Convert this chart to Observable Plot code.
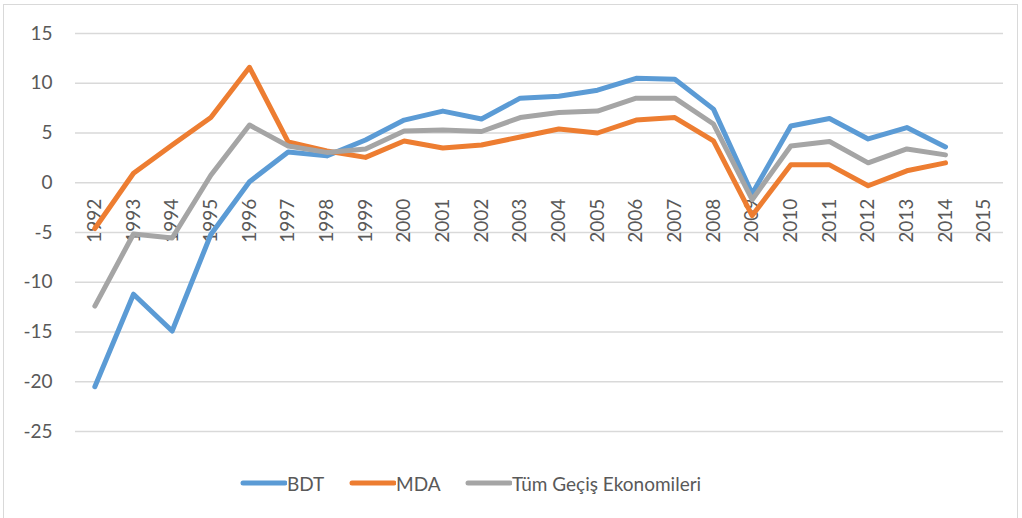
<!DOCTYPE html>
<html>
<head>
<meta charset="utf-8">
<script src="https://cdn.jsdelivr.net/npm/d3@7"></script>
<script src="https://cdn.jsdelivr.net/npm/@observablehq/plot@0.6"></script>
<style>
  html, body { margin: 0; padding: 0; background: #fff; }
  #wrap { position: relative; width: 1022px; height: 518px; overflow: hidden; font-family: Lato, "Noto Sans", sans-serif; }
  #frame { position: absolute; left: 3px; top: 4px; width: 1015px; height: 520px; border: 1.5px solid #d9d9d9; box-sizing: border-box; }
  #chart { position: absolute; left: 0; top: 0; }
  #legend { position: absolute; top: 470px; left: 0; width: 1022px; height: 26px; }
  .item { position: absolute; top: 0; display: flex; align-items: center; height: 26px; font-size: 19px; color: #595959; }
</style>
</head>
<body>
<div id="wrap">
  <div id="frame"></div>
  <div id="chart"></div>
  <div id="legend"></div>
</div>
<script>
const years = [1992,1993,1994,1995,1996,1997,1998,1999,2000,2001,2002,2003,2004,2005,2006,2007,2008,2009,2010,2011,2012,2013,2014,2015];
const seriesNames = ["BDT", "MDA", "Tüm Geçiş Ekonomileri"];
const seriesColors = ["#5B9BD5", "#ED7D31", "#A5A5A5"];
const bdt = [-20.5,-11.2,-14.9,-5.2,0.1,3.1,2.7,4.3,6.3,7.2,6.4,8.5,8.7,9.3,10.5,10.4,7.4,-1.1,5.7,6.45,4.4,5.55,3.6,null];
const mda = [-4.6,0.95,3.8,6.55,11.6,4.1,3.2,2.55,4.2,3.5,3.8,4.6,5.4,5.0,6.3,6.55,4.2,-3.3,1.8,1.8,-0.3,1.2,2.0,null];
const tum = [-12.4,-5.15,-5.55,0.75,5.8,3.7,3.05,3.4,5.2,5.3,5.15,6.55,7.05,7.2,8.5,8.5,5.9,-1.7,3.7,4.15,2.0,3.4,2.8,null];
const yTicks = [15,10,5,0,-5,-10,-15,-20,-25];

const allSeries = [bdt, mda, tum];
const rows = [];
allSeries.forEach((vals, s) => {
  vals.forEach((v, i) => { if (v !== null) rows.push({year: years[i], value: v, series: seriesNames[s]}); });
});

const plot = Plot.plot({
  width: 1022,
  height: 445,
  marginLeft: 75,
  marginRight: 19,
  marginTop: 33,
  marginBottom: 14,
  style: {fontFamily: "Lato, 'Noto Sans', sans-serif", background: "transparent"},
  x: {type: "point", domain: years, padding: 0.5, round: false, axis: null},
  y: {domain: [-25, 15], axis: null},
  color: {domain: seriesNames, range: seriesColors},
  marks: [
    Plot.ruleY(yTicks, {stroke: "#d9d9d9", strokeWidth: 1.5}),
    Plot.axisY({ticks: yTicks, tickSize: 0, tickPadding: 23, fontSize: 19, color: "#595959", label: null, tickFormat: d => String(d).replace("−", "-")}),
    Plot.text(years, {x: d => d, y: () => 0, text: d => String(d), rotate: -90, textAnchor: "end", lineAnchor: "middle", dy: 16, fontSize: 19, fill: "#595959"}),
    Plot.line(rows, {x: "year", y: "value", z: "series", stroke: "series", strokeWidth: 5, strokeLinejoin: "round", strokeLinecap: "round"})
  ]
});
document.getElementById("chart").appendChild(plot);

const legendPos = [240, 349, 465];
const legend = document.getElementById("legend");
seriesNames.forEach((name, i) => {
  const div = document.createElement("div");
  div.className = "item";
  div.style.left = legendPos[i] + "px";
  div.innerHTML = `<svg width="47" height="10"><line x1="3" y1="5" x2="45" y2="5" stroke="${seriesColors[i]}" stroke-width="5" stroke-linecap="round"/></svg><span>${name}</span>`;
  legend.appendChild(div);
});
</script>
</body>
</html>
